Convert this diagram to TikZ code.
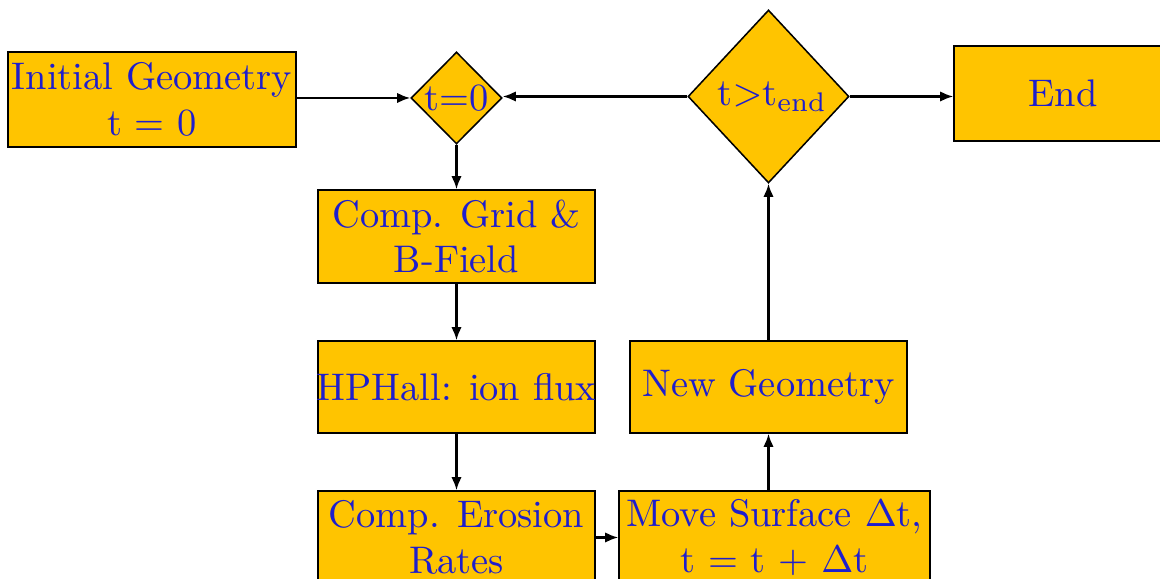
\documentclass[tikz,border=0pt]{standalone}
\usetikzlibrary{shapes.geometric,arrows.meta}
\definecolor{boxfill}{RGB}{255,196,0}
\definecolor{txt}{RGB}{30,30,205}
\begin{document}
\begin{tikzpicture}[x=0.26pt,y=-0.26pt,
  box/.style={draw=black,fill=boxfill,line width=0.4pt,inner sep=0pt,align=center,text=txt,font=\fontsize{10}{11.8}\selectfont},
  dia/.style={draw=black,fill=boxfill,line width=0.4pt,diamond,inner sep=0pt},
  lbl/.style={text=txt,inner sep=0pt,font=\fontsize{10}{11.8}\selectfont},
  arr/.style={-{Latex[length=3.4pt,width=2.7pt]},line width=0.55pt}]
\useasboundingbox (0,0) rectangle (1160,579);
\node[box,minimum width=288*0.26pt,minimum height=95*0.26pt] (init) at (152,99.5) {Initial Geometry\\t = 0};
\node[dia,minimum width=91*0.26pt,minimum height=92*0.26pt] (d1) at (456.5,98) {};
\node[lbl] (d1t) at (d1) {t=0};
\node[dia,minimum width=161*0.26pt,minimum height=173*0.26pt] (d2) at (768.5,96.5) {};
\node[lbl] (d2t) at ([xshift=1pt]d2) {t$>$t$_{\mathrm{end}}$};
\node[box,minimum width=218*0.26pt,minimum height=95*0.26pt] (end) at (1063,93.5) {End};
\node[box,minimum width=277*0.26pt,minimum height=93*0.26pt] (grid) at (456.5,236.5) {Comp. Grid \&\\B-Field};
\node[box,minimum width=277*0.26pt,minimum height=92*0.26pt,inner xsep=-0.6pt] (hp) at (456.5,387) {HPHall: ion flux};
\node[box,minimum width=277*0.26pt,minimum height=93*0.26pt] (ero) at (456.5,537.5) {Comp. Erosion\\Rates};
\node[box,minimum width=277*0.26pt,minimum height=92*0.26pt] (newg) at (768.5,387) {New Geometry};
\node[box,minimum width=311*0.26pt,minimum height=93*0.26pt] (move) at (774.5,537.5) {Move Surface $\Delta$t,\\t = t + $\Delta$t};
\draw[arr] (init.east |- d1.west) -- (d1.west);
\draw[arr] (d2.west) -- (d2.west -| d1.east);
\draw[arr] (d2.east) -- (end.west |- d2.east);
\draw[arr] (d1.south) -- (grid.north);
\draw[arr] (grid.south) -- (hp.north);
\draw[arr] (hp.south) -- (ero.north);
\draw[arr] (ero.east) -- (move.west);
\draw[arr] (newg.south |- move.north) -- (newg.south);
\draw[arr] (newg.north) -- (d2.south);
\end{tikzpicture}
\end{document}
